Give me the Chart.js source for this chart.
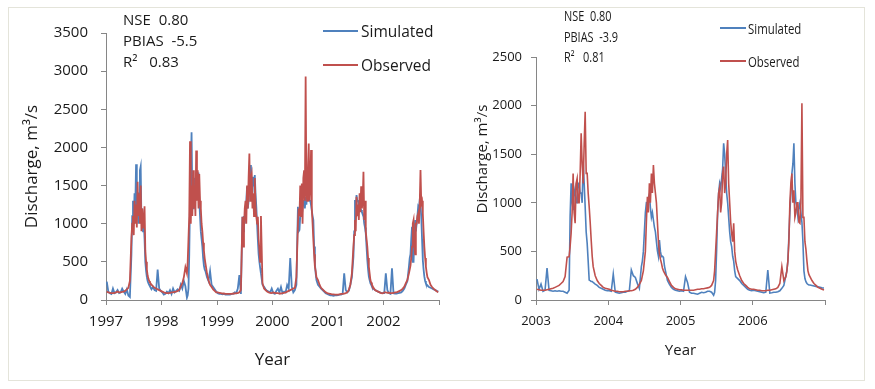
<!DOCTYPE html>
<html><head><meta charset="utf-8">
<script src="https://cdn.jsdelivr.net/npm/chart.js@4/dist/chart.umd.min.js"></script>
<style>
body{margin:0;background:#fff;width:875px;height:389px;overflow:hidden;position:relative;}
#frame{position:absolute;left:8px;top:7px;width:855px;height:372px;border:1px solid #e4e4da;}
canvas{position:absolute;top:0;}
.stats{position:absolute;white-space:pre;color:#1a1a1a;transform-origin:0 0;}
.legtxt{position:absolute;color:#1a1a1a;white-space:pre;transform-origin:0 50%;}
.legsw{position:absolute;height:1.7px;}
</style>
</head><body>
<div id="frame"></div>
<canvas id="c1" width="450" height="389" style="left:0"></canvas>
<canvas id="c2" width="425" height="389" style="left:450px"></canvas>
<div id="overlay"></div>
<script>
// Values per year: 16 ten-day values (Jan-early Jun), 24 five-day values (high-flow season), 8 ten-day values (Oct-Dec)
// ---- Left panel (1997-2002) ----
const yearsLeft = [1997, 1998, 1999, 2000, 2001, 2002];
const sim1997 = [240,110,90,80,150,90,100,130,90,100,150,110,80,140,60,40, 600,1100,1300,1000,1400,1200,1780,1100,1300,1000,1400,1700,1750,1000,1200,900,1000,800,500,380,300,250,220,200, 180,140,170,130,120,400,150,120];
const obs1997 = [110,100,95,90,90,95,100,110,100,100,105,110,120,140,160,250, 820,1000,1100,850,1300,1000,1250,950,1550,1100,1400,1000,1500,900,1200,950,1000,1230,650,500,400,320,280,250, 230,200,180,160,150,140,130,120];
const sim1998 = [100,70,80,110,90,130,80,150,100,120,140,120,200,150,250,180, 30,60,150,600,1300,1700,2200,1300,1200,1500,1600,1300,1450,1670,1500,1670,1300,1100,900,800,700,550,450,400, 380,300,250,380,200,170,140,110];
const obs1998 = [110,100,95,90,90,95,100,100,105,110,120,130,180,220,300,430, 350,500,800,1100,2080,1000,1500,1100,1700,1200,1500,1100,1960,1300,1700,1200,1650,1300,1200,1000,900,750,650,550, 480,350,260,200,170,140,120,100];
const sim1999 = [90,80,80,75,80,70,70,75,70,80,80,100,90,150,327,80, 1090,900,1100,1000,1200,1300,1484,1200,1300,1500,1400,1770,1500,1400,1615,1500,1637,1400,1222,1000,786,600,500,420, 350,200,175,140,120,110,100,150];
const obs1999 = [100,95,90,85,85,80,80,80,80,80,85,85,90,90,100,130, 1090,700,960,1200,1300,1000,1500,1200,1600,1920,1300,1600,1650,1200,1400,1100,1600,1200,1100,1000,1090,800,655,500, 1100,220,150,131,110,100,95,90];
const sim2000 = [90,80,120,150,100,170,90,110,100,197,150,550,175,100,130,200, 1222,900,917,1100,1266,1100,1200,1300,1300,1200,1350,1250,1441,1300,1400,1300,1300,1245,1245,1100,1048,700,480,350, 262,200,175,150,131,110,90,80];
const obs2000 = [100,95,90,90,85,85,90,95,100,110,120,130,140,150,160,300, 1000,1200,1100,1500,1100,1528,1000,1600,1700,1300,2930,1400,1300,1700,2050,1300,1500,1965,1200,1000,786,600,437,380, 300,262,200,160,140,120,100,90];
const sim2001 = [70,60,60,55,60,60,65,70,70,80,350,131,100,120,200,300, 567,900,1310,1200,1375,1300,1300,1250,1250,1200,1179,1150,1135,1100,1000,950,873,700,524,400,306,260,220,200, 175,150,131,120,110,100,95,90];
const obs2001 = [85,80,75,75,70,70,70,75,80,80,85,90,100,130,200,350, 699,850,1048,900,1353,1100,1250,1050,1400,1150,1490,1200,1300,1681,1048,1300,900,800,699,550,437,350,262,230, 200,160,131,120,110,100,90,88];
const sim2002 = [90,350,130,90,80,415,88,85,85,90,95,100,120,150,200,250, 437,550,600,800,961,500,500,800,1048,900,1000,1100,1223,1200,1310,1250,1092,800,524,400,306,250,218,200, 190,170,160,150,140,131,120,110];
const obs2002 = [100,100,95,95,90,90,95,100,100,110,120,130,150,175,220,262, 350,400,450,550,699,1000,1048,700,600,1000,1000,1100,1135,1000,1250,1703,1266,1300,1135,900,699,550,437,360, 300,262,200,170,150,131,115,100];

// ---- Right panel (2003-2006) ----
const yearsRight = [2003, 2004, 2005, 2006];
const sim2003 = [215,110,164,90,100,328,100,95,90,95,90,95,90,90,80,69, 100,857,1200,1000,925,1100,1150,1000,1000,1200,1200,1100,1100,1000,1423,1200,960,700,583,400,206,200,190,190, 180,164,150,130,120,110,100,96];
const obs2003 = [110,105,100,100,100,105,110,115,120,130,140,150,170,190,240,440, 446,550,686,900,1300,900,790,1200,1250,1000,1000,1300,1715,1400,1200,1600,1937,1303,1303,1100,960,800,617,450, 343,250,200,170,150,130,120,115];
const sim2004 = [96,90,267,80,75,70,75,80,80,90,95,309,250,232,171,120, 343,400,500,700,900,1000,997,1050,1088,950,850,900,823,750,700,600,506,450,617,500,446,450,438,350, 300,200,160,130,110,100,96,90];
const obs2004 = [110,100,95,90,90,85,85,85,90,90,95,95,100,110,130,160, 200,250,300,400,500,800,1063,900,1200,1000,1300,1100,1389,1200,1100,1000,800,600,480,420,380,330,300,280, 260,232,190,150,130,115,110,105];
const sim2005 = [96,90,240,181,80,70,70,65,60,70,80,75,80,90,90,80, 50,80,200,514,900,1100,1200,1150,1250,1350,1612,1500,1300,1100,1000,850,700,600,549,450,400,300,240,230, 220,200,170,150,130,110,100,96];
const obs2005 = [105,100,100,100,100,100,100,105,110,110,115,115,120,125,130,150, 200,300,500,700,900,1100,1156,900,1000,1300,1372,1100,1200,1500,1646,1200,1000,800,686,600,789,500,400,350, 309,250,200,170,150,130,115,110];
const sim2006 = [100,95,90,85,80,75,80,309,72,75,80,80,85,95,120,150, 250,300,400,651,900,1100,1300,1400,1612,1200,1000,960,857,950,1000,900,800,600,300,220,189,170,160,155, 154,150,145,140,135,130,125,123];
const obs2006 = [110,105,100,100,95,95,95,100,100,105,110,115,130,170,343,200, 240,300,400,600,1000,1200,1300,1000,1130,850,900,1000,1000,800,789,1000,2024,850,850,600,520,400,300,260, 240,200,170,150,130,120,110,103];

const seriesNames = ['Simulated', 'Observed'];
const seriesColors = ['#4f81bd', '#c0504d'];
const yTicksLeft = [0, 3500, 500];
const yTicksRight = [0, 2500, 500];
const statsLeft = ['NSE  0.80', 'PBIAS  -5.5', 'R\u00b2   0.83'];
const statsRight = ['NSE  0.80', 'PBIAS  -3.9', 'R\u00b2   0.81'];
const yTitle = 'Discharge, m\u00b3/s';
const xTitle = 'Year';

// position (in 10-day units within the year) of each of the 48 values in a year
const stepPos = [];
for (let i = 0; i < 16; i++) stepPos.push(i);
for (let j = 0; j < 24; j++) stepPos.push(16 + j / 2);
for (let k = 0; k < 8; k++) stepPos.push(28 + k);

function toPoints(years, perYear) {
  const pts = [];
  years.forEach((yr, k) => perYear[k].forEach((v, i) => pts.push({x: yr + (stepPos[i] + 0.5) / 36, y: v})));
  return pts;
}

function makeChart(id, cfg) {
  const axisCol = '#868686';
  const txt = '#1a1a1a';
  return new Chart(document.getElementById(id), {
    type: 'line',
    data: {
      datasets: [
        {label: seriesNames[0], data: cfg.sim, borderColor: seriesColors[0], borderWidth: cfg.lw, pointRadius: 0, tension: 0, order: 1},
        {label: seriesNames[1], data: cfg.obs, borderColor: seriesColors[1], borderWidth: cfg.lw, pointRadius: 0, tension: 0, order: 0}
      ]
    },
    options: {
      responsive: false, animation: false, devicePixelRatio: 1,
      layout: {padding: cfg.pad},
      plugins: {legend: {display: false}, tooltip: {enabled: false}},
      scales: {
        x: {
          type: 'linear', min: cfg.xmin, max: cfg.xmax,
          afterFit: s => { s.height = cfg.xh; },
          afterBuildTicks: s => { s.ticks = []; for (let v = cfg.xmin; v <= cfg.xmax; v++) s.ticks.push({value: v}); },
          ticks: {autoSkip: false, maxRotation: 0, color: txt, padding: cfg.xtpad,
                  font: {family: cfg.font, size: cfg.tick},
                  callback: v => (v === cfg.xmax ? '' : String(v))},
          grid: {display: true, drawOnChartArea: false, drawTicks: true, tickLength: 5, color: axisCol},
          border: {display: true, color: axisCol, width: 1},
          title: {display: true, text: xTitle, color: txt, font: {family: cfg.font, size: cfg.title},
                  padding: {top: 0, bottom: cfg.xtitlePad}}
        },
        y: {
          min: cfg.ymin, max: cfg.ymax,
          afterFit: s => { s.width = cfg.yw; },
          ticks: {stepSize: cfg.ystep, color: txt, padding: cfg.ytpad, font: {family: cfg.font, size: cfg.tick},
                  callback: v => String(v)},
          grid: {display: true, drawOnChartArea: false, drawTicks: true, tickLength: 5, color: axisCol},
          border: {display: true, color: axisCol, width: 1},
          title: {display: true, text: cfg.yTitleText, color: txt, font: {family: cfg.font, size: cfg.ytitle},
                  padding: {top: cfg.ytitlePad, bottom: 0}}
        }
      }
    }
  });
}

const FONT = "'Open Sans', sans-serif";

makeChart('c1', {
  sim: toPoints(yearsLeft, [sim1997, sim1998, sim1999, sim2000, sim2001, sim2002]),
  obs: toPoints(yearsLeft, [obs1997, obs1998, obs1999, obs2000, obs2001, obs2002]),
  xmin: 1997, xmax: 2003, ymin: yTicksLeft[0], ymax: yTicksLeft[1], ystep: yTicksLeft[2],
  pad: {left: 0, top: 33, right: 11, bottom: 0}, yw: 106, xh: 89, lw: 1.8,
  font: FONT, tick: 15, title: 17, ytitle: 17, yTitleText: yTitle,
  xtpad: 8, ytpad: 13, ytitlePad: 22, xtitlePad: 19
});

makeChart('c2', {
  sim: toPoints(yearsRight, [sim2003, sim2004, sim2005, sim2006]),
  obs: toPoints(yearsRight, [obs2003, obs2004, obs2005, obs2006]),
  xmin: 2003, xmax: 2007, ymin: yTicksRight[0], ymax: yTicksRight[1], ystep: yTicksRight[2],
  pad: {left: 0, top: 57, right: 50, bottom: 0}, yw: 86, xh: 89, lw: 1.6,
  font: FONT, tick: 13, title: 15, ytitle: 15,
  yTitleText: '          ' + yTitle,
  xtpad: 8, ytpad: 9, ytitlePad: 24, xtitlePad: 29
});

// ---- overlays: statistics text and legends ----
const ov = document.getElementById('overlay');
function addStats(lines, left, top, size, lh, sx) {
  const d = document.createElement('div');
  d.className = 'stats';
  d.style.cssText = `left:${left}px;top:${top}px;font-size:${size}px;line-height:${lh}px;font-family:${FONT};transform:scaleX(${sx});`;
  d.textContent = lines.join('\n');
  ov.appendChild(d);
}
function addLegend(x0, lineW, textX, ys, size, sx) {
  seriesNames.forEach((name, i) => {
    const sw = document.createElement('div');
    sw.className = 'legsw';
    sw.style.cssText = `left:${x0}px;top:${ys[i] - 1}px;width:${lineW}px;background:${seriesColors[i]};`;
    ov.appendChild(sw);
    const t = document.createElement('div');
    t.className = 'legtxt';
    const lh = Math.round(size * 1.4);
    t.style.cssText = `left:${textX}px;top:${ys[i] - lh / 2}px;font-size:${size}px;line-height:${lh}px;font-family:${FONT};transform:scaleX(${sx});`;
    t.textContent = name;
    ov.appendChild(t);
  });
}
addStats(statsLeft, 123, 9, 15, 21, 1);
addStats(statsRight, 564, 6, 14, 20.5, 0.78);
addLegend(323, 35, 361, [31, 65], 15.5, 1);
addLegend(720, 26, 748, [28, 61], 15, 0.76);
</script>
</body></html>
